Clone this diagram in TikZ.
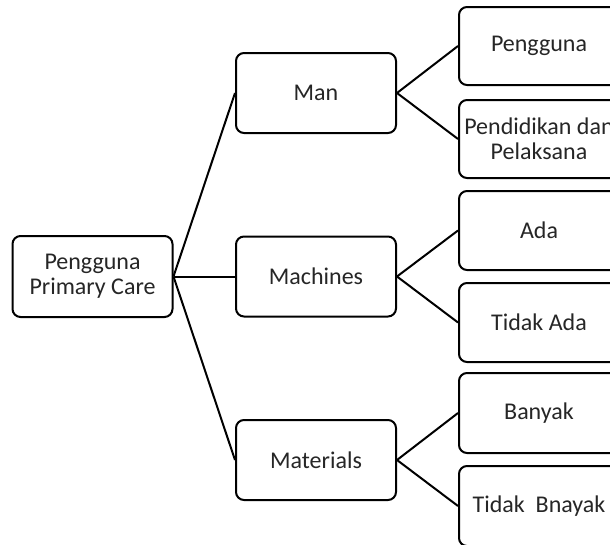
\documentclass[tikz,border=0pt]{standalone}
\usepackage{fontspec}
\setmainfont{Carlito}
\begin{document}
\begin{tikzpicture}[x=1pt,y=-1pt,
  box/.style={draw=black, line width=2pt, rounded corners=8pt, fill=white,
    minimum width=160pt, minimum height=80pt, inner sep=0pt,
    align=center, text=black!85,
    font=\fontsize{24}{25}\selectfont},
  link/.style={draw=black, line width=2pt}]
\useasboundingbox (0,0) rectangle (610,544);
\clip (0,0) rectangle (610,544);
\node[box, minimum width=160pt, minimum height=81pt] (root) at (92.5,276.5) {Pengguna\\Primary Care};
\node[box] (man) at (316,93) {Man};
\node[box] (mach) at (316,276.5) {Machines};
\node[box] (mat) at (316,460) {Materials};
\node[box, minimum height=78pt] (p1) at (539,46) {Pengguna};
\node[box, minimum height=78pt] (p2) at (539,139) {Pendidikan dan\\Pelaksana};
\node[box, minimum height=79pt] (a1) at (539,230.5) {Ada};
\node[box, minimum height=79pt] (a2) at (539,322.5) {Tidak Ada};
\node[box, minimum height=80pt] (b1) at (539,413) {Banyak};
\node[box, minimum height=80pt] (b2) at (539,506) {Tidak\ \ Bnayak};
\draw[link] (root.east) -- (man.west);
\draw[link] (root.east) -- (mach.west);
\draw[link] (root.east) -- (mat.west);
\draw[link] (man.east) -- (p1.west);
\draw[link] (man.east) -- (p2.west);
\draw[link] (mach.east) -- (a1.west);
\draw[link] (mach.east) -- (a2.west);
\draw[link] (mat.east) -- (b1.west);
\draw[link] (mat.east) -- (b2.west);
\end{tikzpicture}
\end{document}
